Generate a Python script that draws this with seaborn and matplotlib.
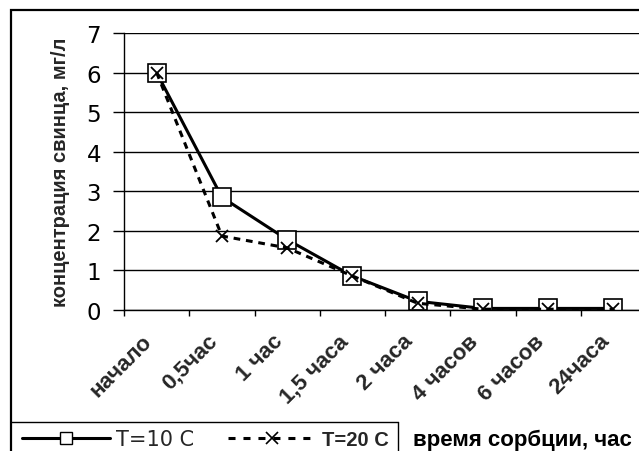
import matplotlib
matplotlib.use("Agg")
import matplotlib.pyplot as plt
from matplotlib.lines import Line2D
from matplotlib.patches import Rectangle
from matplotlib.ticker import FixedLocator, NullFormatter
import seaborn as sns
import pandas as pd
import numpy as np

sns.set_theme(style="white")
plt.rcParams["font.family"] = ["Liberation Sans", "DejaVu Sans"]

categories = ["начало", "0,5час", "1 час", "1,5 часа", "2 часа", "4 часов", "6 часов", "24часа"]
t10_values = [6.0, 2.85, 1.78, 0.86, 0.22, 0.04, 0.04, 0.04]
t20_values = [6.0, 1.87, 1.57, 0.86, 0.17, 0.02, 0.02, 0.02]
series_labels = ["T=10 C", "T=20 C"]
y_ticks = [0, 1, 2, 3, 4, 5, 6, 7]

pos = np.arange(len(categories))
df = pd.DataFrame({
    "pos": np.concatenate([pos, pos]),
    "value": t10_values + t20_values,
    "series": [series_labels[0]] * len(pos) + [series_labels[1]] * len(pos),
})

fig = plt.figure(figsize=(6.39, 4.52), dpi=100)
W, H = 639, 452
PX = 72 / 100  # points per pixel

def fx(px):
    return px / W

def fy(py):
    return 1 - py / H

ax = fig.add_axes([fx(124), fy(311), fx(646) - fx(124), fy(34) - fy(311)])
ax.set_facecolor("white")

DASH = [2.2, 1.9]

sns.lineplot(data=df[df.series == series_labels[0]], x="pos", y="value", ax=ax,
             color="black", lw=2.2, marker="s", markersize=13,
             markerfacecolor="white", markeredgecolor="black", markeredgewidth=1.2,
             label=series_labels[0], legend=False)
sns.lineplot(data=df[df.series == series_labels[1]], x="pos", y="value", ax=ax,
             color="black", lw=2.2, marker="x", markersize=9,
             markeredgecolor="black", markeredgewidth=1.3,
             label=series_labels[1], legend=False)
ax.lines[1].set_dashes(DASH)

ax.set_xlim(-0.5, len(categories) - 0.5)
ax.set_ylim(0, 7)
ax.set_yticks(y_ticks)
ax.set_yticklabels([str(v) for v in y_ticks], fontsize=16.5, color="black",
                   family=["DejaVu Sans"])
ax.set_xticks(pos)
# labels hang below the axis, ending just left of each category centre
ax.set_xticklabels(categories, rotation=45, ha="right", va="bottom",
                   rotation_mode="anchor", fontsize=16, fontweight="bold")
ax.xaxis.set_minor_locator(FixedLocator(np.arange(-0.5, len(categories), 1.0)))
ax.xaxis.set_minor_formatter(NullFormatter())
ax.tick_params(axis="x", which="major", length=0, pad=35 * PX)
ax.tick_params(axis="x", which="minor", length=6 * PX, width=1, color="black",
               direction="out", bottom=True)
ax.tick_params(axis="y", length=11 * PX, width=1, color="black", direction="out",
               left=True, pad=12 * PX)

ax.grid(axis="y", color="black", lw=1)
ax.set_axisbelow(True)
for side in ["top", "right"]:
    ax.spines[side].set_visible(False)
for side in ["left", "bottom"]:
    ax.spines[side].set_color("black")
    ax.spines[side].set_linewidth(1)
ax.set_xlabel("")
ax.set_ylabel("концентрация свинца, мг/л", fontsize=14.5, fontweight="bold", labelpad=12)

# outer chart frame and legend box
fig.add_artist(Rectangle((fx(11), fy(470)), fx(700) - fx(11), fy(11) - fy(470),
                         transform=fig.transFigure, fill=False, edgecolor="black", lw=1.6))
fig.add_artist(Line2D([fx(11), fx(398)], [fy(423), fy(423)], transform=fig.transFigure,
                      color="black", lw=1))
fig.add_artist(Line2D([fx(398), fx(398)], [fy(423), fy(460)], transform=fig.transFigure,
                      color="black", lw=1))

handles = [
    Line2D([], [], color="black", lw=2.2, marker="s", markersize=9,
           markerfacecolor="white", markeredgecolor="black", markeredgewidth=1),
    Line2D([], [], color="black", lw=2.2, dashes=[2.3, 2.6], marker="x", markersize=8,
           markeredgewidth=1.2),
]
leg = fig.legend(handles, series_labels, loc="center left",
                 bbox_to_anchor=(fx(22), fy(440)), ncol=2, frameon=False,
                 handlelength=4.2, handletextpad=0.3, columnspacing=1.65,
                 fontsize=15, borderaxespad=0, borderpad=0)
leg.get_texts()[0].set_family(["DejaVu Sans"])
leg.get_texts()[1].set_fontweight("bold")
leg.get_texts()[1].set_fontsize(14.5)

fig.text(fx(413), fy(440), "время сорбции, час", fontsize=16, fontweight="bold",
         ha="left", va="center", color="black")

fig.savefig("out.png", dpi=100, facecolor="white")
